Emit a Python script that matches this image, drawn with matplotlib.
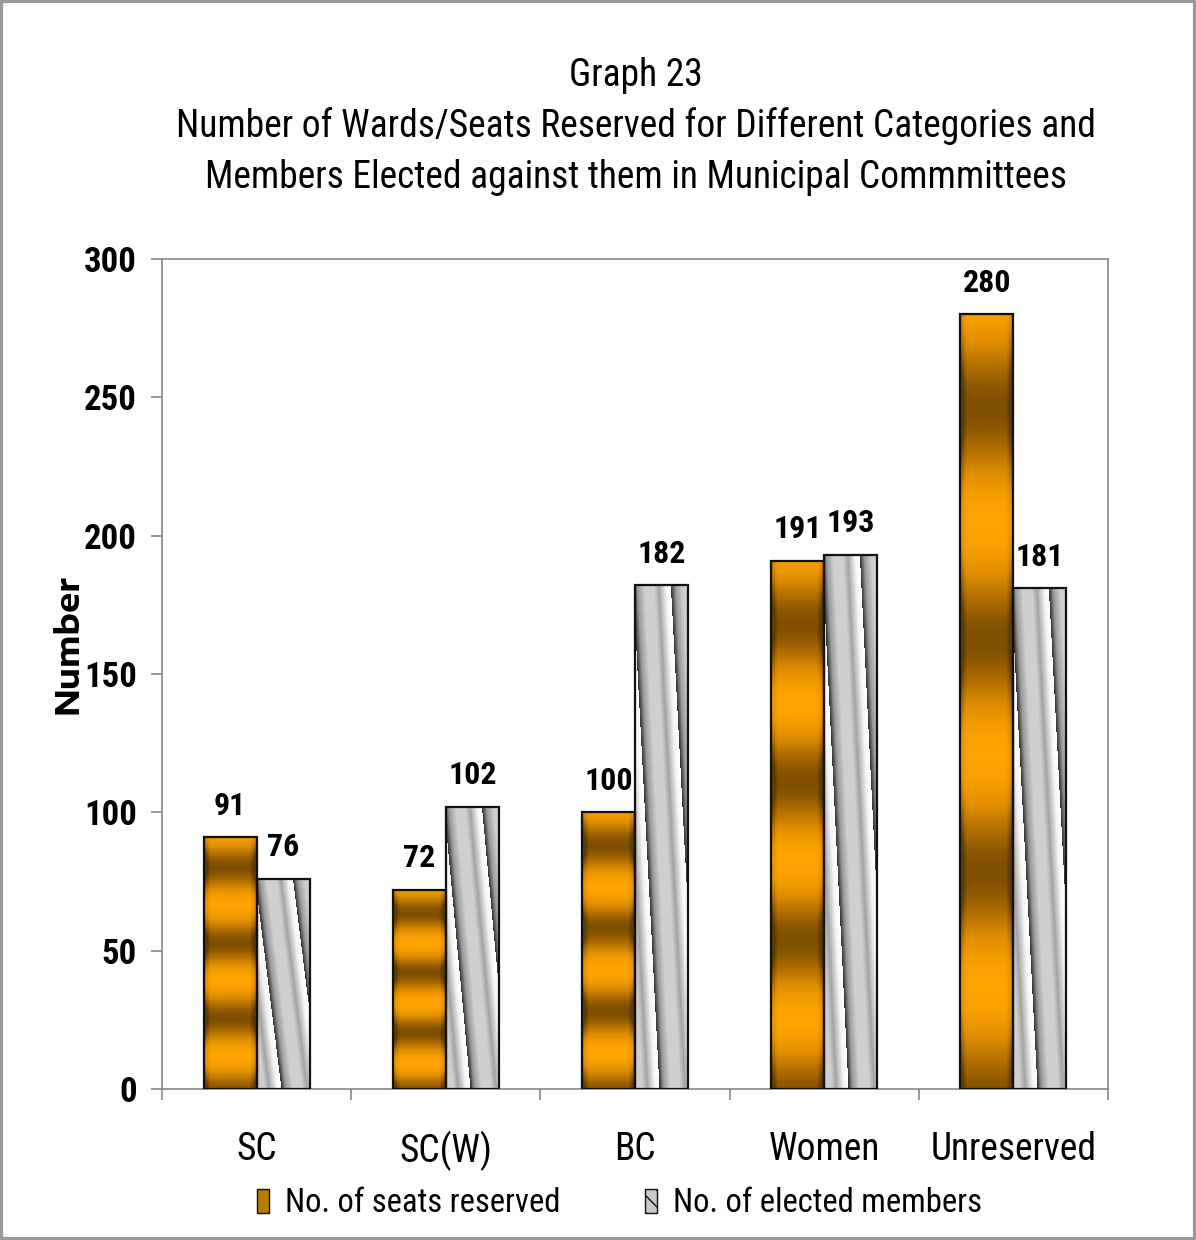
import matplotlib
matplotlib.use("Agg")
import matplotlib.pyplot as plt
import numpy as np
from matplotlib import font_manager
from matplotlib.colors import LinearSegmentedColormap
from matplotlib.patches import Patch, Rectangle

categories = ["SC", "SC(W)", "BC", "Women", "Unreserved"]
seats_reserved = [91, 72, 100, 191, 280]
elected_members = [76, 102, 182, 193, 181]
series_labels = ["No. of seats reserved", "No. of elected members"]
title_lines = [
    "Graph 23",
    "Number of Wards/Seats Reserved for Different Categories and",
    "Members Elected against them in Municipal Commmittees",
]
yticks = [0, 50, 100, 150, 200, 250, 300]

available = {f.name for f in font_manager.fontManager.ttflist}


def pick(names):
    for n in names:
        if n in available:
            return n
    return "Liberation Sans"


FONT = pick(["Roboto Condensed", "Archivo Narrow", "IBM Plex Sans Condensed",
             "Asap Condensed", "Liberation Sans"])
WIDE = pick(["Encode Sans Expanded", "Encode Sans Semi Expanded", "Liberation Sans"])
plt.rcParams["font.family"] = [FONT, "DejaVu Sans"]

orange_cmap = LinearSegmentedColormap.from_list(
    "orng", ["#ffa500", "#e08e00", "#a86800", "#5e3c00"])
gray_cmap = LinearSegmentedColormap.from_list("gry", [
    (0.0, "#333333"), (0.12, "#9a9a9a"), (0.3, "#cfcfcf"), (0.55, "#cfcfcf"),
    (0.68, "#a4a4a4"), (0.88, "#f6f6f6"), (1.0, "#ffffff")])


def fill_orange(ax, bar):
    x0, w, h = bar.get_x(), bar.get_width(), bar.get_height()
    yf = np.linspace(0, 1, 300)[:, None]
    xf = np.linspace(0, 1, 40)[None, :]
    v = 0.5 + 0.5 * np.cos(2 * np.pi * (yf - 0.12) / 0.3)
    edge = np.clip(1 - np.minimum(xf, 1 - xf) / 0.12, 0, 1) * 0.35
    v = np.clip(v * 0.85 + edge, 0, 1)
    im = ax.imshow(v, cmap=orange_cmap, vmin=0, vmax=1, aspect="auto",
                   extent=[x0, x0 + w, 0, h], origin="upper", zorder=2,
                   interpolation="bilinear")
    im.set_clip_path(bar)


def fill_gray(ax, bar):
    x0, w, h = bar.get_x(), bar.get_width(), bar.get_height()
    yf = np.linspace(0, 1, 400)[:, None]
    xf = np.linspace(0, 1, 160)[None, :]
    d = xf - 0.5 * yf
    p = np.mod((d - 0.68) / 0.72, 1.0)
    im = ax.imshow(p, cmap=gray_cmap, vmin=0, vmax=1, aspect="auto",
                   extent=[x0, x0 + w, 0, h], origin="upper", zorder=2,
                   interpolation="nearest")
    im.set_clip_path(bar)


fig = plt.figure(figsize=(11.96, 12.4), dpi=100)
fig.patches.append(Rectangle((0.001, 0.001), 0.998, 0.998, transform=fig.transFigure,
                             fill=False, edgecolor="#999999", linewidth=3))
ax = fig.add_axes([0.1355, 0.1218, 0.7909, 0.6693])

x = np.arange(len(categories))
width = 0.28
bars1 = ax.bar(x - width / 2, seats_reserved, width, facecolor="none",
               edgecolor="#111111", linewidth=1.6, zorder=3)
bars2 = ax.bar(x + width / 2, elected_members, width, facecolor="none",
               edgecolor="#111111", linewidth=1.6, zorder=3)
for b in bars1:
    fill_orange(ax, b)
for b in bars2:
    fill_gray(ax, b)

for bars, vals in ((bars1, seats_reserved), (bars2, elected_members)):
    for b, v in zip(bars, vals):
        ax.annotate(str(v), (b.get_x() + b.get_width() / 2, v),
                    xytext=(0, 12), textcoords="offset points",
                    ha="center", va="bottom", fontsize=23, fontweight="bold")

ax.set_xlim(-0.5, len(categories) - 0.5)
ax.set_ylim(0, 300)
ax.set_yticks(yticks)
ax.set_yticklabels([str(t) for t in yticks], fontsize=25, fontweight="bold")
ax.set_xticks(x)
ax.set_xticklabels(categories, fontsize=27)
ax.set_xticks(np.arange(-0.5, len(categories)), minor=True)
ax.tick_params(axis="x", which="major", length=0, pad=30)
ax.tick_params(axis="x", which="minor", length=8, color="#888888", width=1.2)
ax.tick_params(axis="y", length=8, color="#888888", width=1.2, pad=10)
for s in ax.spines.values():
    s.set_color("#888888")
    s.set_linewidth(1.2)

for i, line in enumerate(title_lines):
    fig.text(0.532, 1 - (75 + 51.5 * i) / 1240, line, ha="center", va="center",
             fontsize=27)

fig.text(68 / 1196, 1 - 644 / 1240, "Number", rotation=90, ha="center",
         va="center", fontsize=23, fontweight="bold", family=[WIDE, "DejaVu Sans"])

handles = [Patch(facecolor="#b87a00", edgecolor="#111111"),
           Patch(facecolor="#c8c8c8", edgecolor="#111111", hatch="\\\\")]
fig.legend(handles, series_labels, loc="center", bbox_to_anchor=(0.518, 1 - 1203 / 1240),
           ncol=2, frameon=False, fontsize=23.5, handlelength=0.35,
           handleheight=0.75, handletextpad=0.5, columnspacing=2.6)

fig.savefig("out.png", dpi=100)
